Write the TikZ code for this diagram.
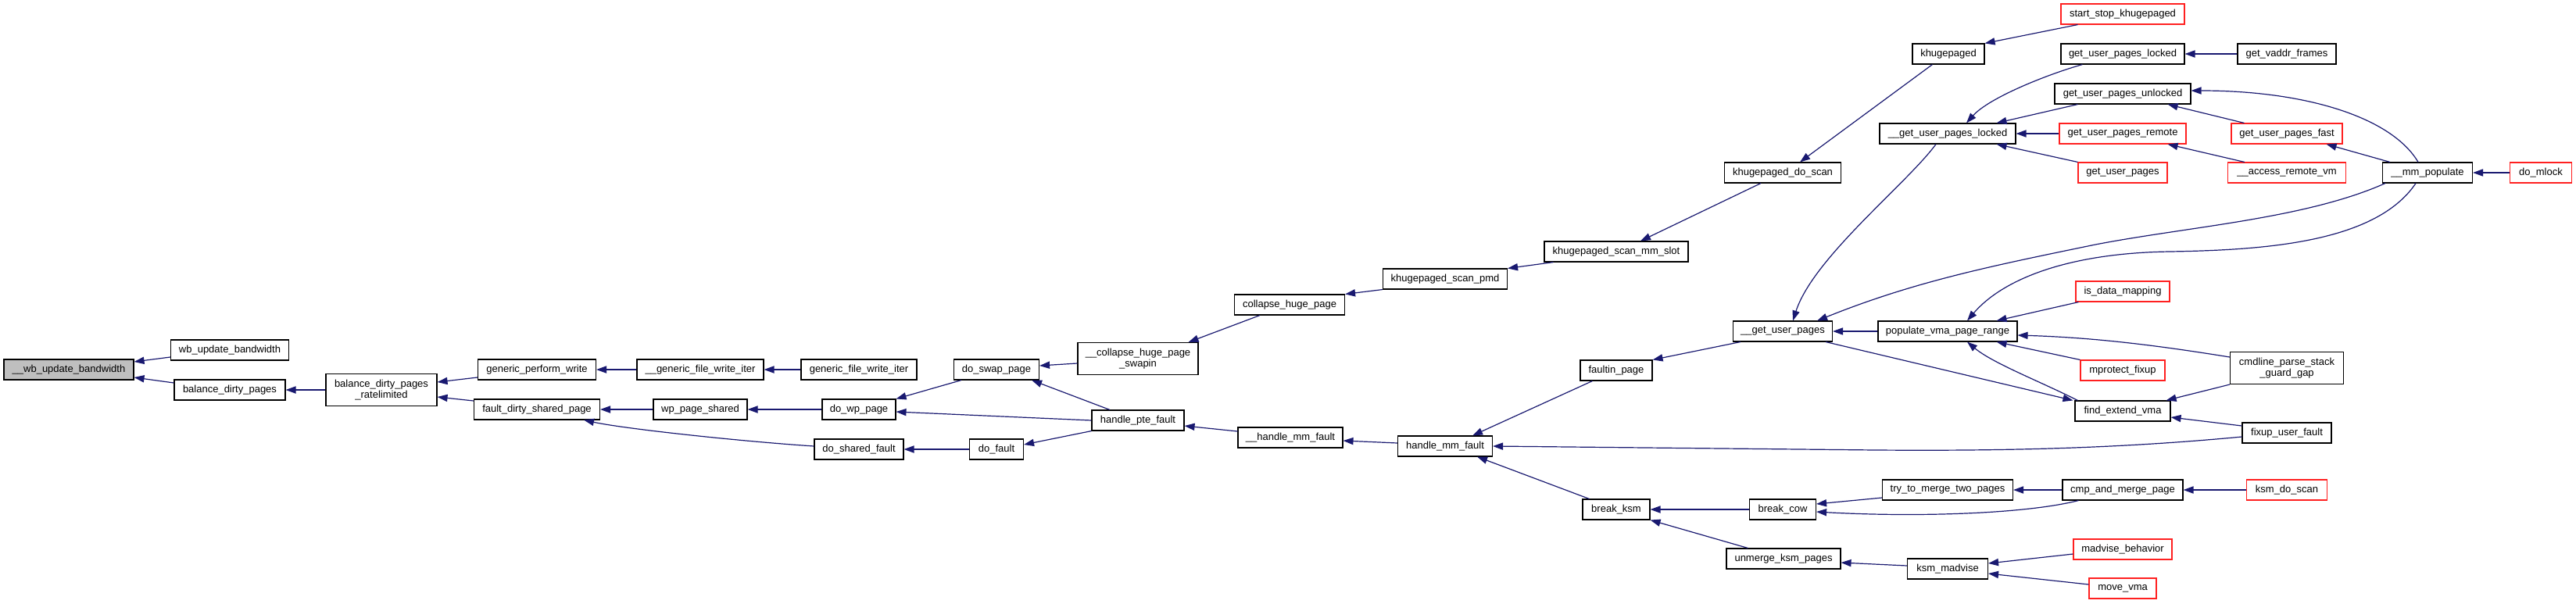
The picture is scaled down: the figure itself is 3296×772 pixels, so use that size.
\documentclass[tikz,border=0pt]{standalone}
\usepackage{fontspec}
\setmainfont{Liberation Sans}
\usetikzlibrary{arrows.meta,calc}
\definecolor{edgeblue}{HTML}{191970}
\definecolor{rootgray}{HTML}{BFBFBF}
\definecolor{redline}{HTML}{FF2020}
\tikzset{
  fn/.style={draw=black, line width=0.55pt, rectangle, inner sep=0pt, minimum height=13pt,
    font=\fontsize{6.5}{7.2}\selectfont, align=center, fill=white},
  fnred/.style={fn, draw=redline},
  fn2/.style={fn, minimum height=20.5pt},
  e/.style={draw=edgeblue, line width=0.6pt, -{Triangle[length=6.5pt,width=4.6pt]}, color=edgeblue}
}
\begin{document}
\begin{tikzpicture}[x=0.5pt,y=-0.5pt]
\useasboundingbox (0,0) rectangle (3296,772);
% nodes
\node[fn, fill=rootgray, minimum width=83pt] (root) at (88,473) {\_\_wb\_update\_bandwidth};
\node[fn, minimum width=75.5pt] (wbu) at (294,448) {wb\_update\_bandwidth};
\node[fn, minimum width=71pt] (bdp) at (294,499) {balance\_dirty\_pages};
\node[fn2, minimum width=71pt] (bdpr) at (488,499) {balance\_dirty\_pages\\\_ratelimited};
\node[fn, minimum width=75.5pt] (gpw) at (687,473) {generic\_perform\_write};
\node[fn, minimum width=80.5pt] (fdsp) at (687,524) {fault\_dirty\_shared\_page};
\node[fn, minimum width=81pt] (gfwiA) at (896,473) {\_\_generic\_file\_write\_iter};
\node[fn, minimum width=74pt] (gfwi) at (1099,473) {generic\_file\_write\_iter};
\node[fn, minimum width=60pt] (wps) at (896,524) {wp\_page\_shared};
\node[fn, minimum width=57pt] (dsf) at (1099,575) {do\_shared\_fault};
\node[fn, minimum width=47pt] (dwp) at (1099,524) {do\_wp\_page};
\node[fn, minimum width=34.5pt] (dof) at (1275,575) {do\_fault};
\node[fn, minimum width=54.5pt] (dsp) at (1275,473) {do\_swap\_page};
\node[fn2, minimum width=77pt] (chps) at (1456,459) {\_\_collapse\_huge\_page\\\_swapin};
\node[fn, minimum width=59pt] (hpf) at (1456,538) {handle\_pte\_fault};
\node[fn, minimum width=70.5pt] (chp) at (1650,390) {collapse\_huge\_page};
\node[fn, minimum width=67pt] (hmfA) at (1651,560) {\_\_handle\_mm\_fault};
\node[fn, minimum width=60.5pt] (hmf) at (1849,571) {handle\_mm\_fault};
\node[fn, minimum width=79.5pt] (kspmd) at (1849,357) {khugepaged\_scan\_pmd};
\node[fn, minimum width=92pt] (ksmm) at (2068,322) {khugepaged\_scan\_mm\_slot};
\node[fn, minimum width=74.5pt] (kds) at (2281,221) {khugepaged\_do\_scan};
\node[fn, minimum width=46pt] (kgp) at (2493,69) {khugepaged};
\node[fnred, minimum width=79pt] (sstk) at (2716,18) {start\_stop\_khugepaged};
\node[fn, minimum width=46pt] (faultin) at (2068,474) {faultin\_page};
\node[fn, minimum width=43pt] (bksm) at (2068,652) {break\_ksm};
\node[fn, minimum width=63.5pt] (gupA) at (2281,424) {\_\_get\_user\_pages};
\node[fn, minimum width=42.5pt] (bcow) at (2281,652) {break\_cow};
\node[fn, minimum width=73pt] (uksm) at (2282,715) {unmerge\_ksm\_pages};
\node[fn, minimum width=87pt] (guplA) at (2492,171) {\_\_get\_user\_pages\_locked};
\node[fn, minimum width=89pt] (pvpr) at (2492,424) {populate\_vma\_page\_range};
\node[fn, minimum width=83.5pt] (ttm) at (2492,627) {try\_to\_merge\_two\_pages};
\node[fn, minimum width=51.5pt] (ksmad) at (2492,728) {ksm\_madvise};
\node[fn, minimum width=79pt] (gul) at (2716,69) {get\_user\_pages\_locked};
\node[fn, minimum width=87pt] (guu) at (2716,120) {get\_user\_pages\_unlocked};
\node[fnred, minimum width=81pt] (gur) at (2716,171) {get\_user\_pages\_remote};
\node[fnred, minimum width=57pt] (gup) at (2716,221) {get\_user\_pages};
\node[fnred, minimum width=60pt] (idm) at (2716,373) {is\_data\_mapping};
\node[fnred, minimum width=54pt] (mpf) at (2716,474) {mprotect\_fixup};
\node[fn, minimum width=61pt] (fev) at (2716,526) {find\_extend\_vma};
\node[fn, minimum width=77pt] (cmp) at (2716,627) {cmp\_and\_merge\_page};
\node[fnred, minimum width=63pt] (mb) at (2716,703) {madvise\_behavior};
\node[fnred, minimum width=43pt] (mv) at (2716,753) {move\_vma};
\node[fn, minimum width=63pt] (gvf) at (2926,69) {get\_vaddr\_frames};
\node[fnred, minimum width=71pt] (gupf) at (2926,171) {get\_user\_pages\_fast};
\node[fnred, minimum width=75.5pt] (arv) at (2926,221) {\_\_access\_remote\_vm};
\node[fn2, minimum width=72.5pt] (cpsg) at (2926,471) {cmdline\_parse\_stack\\\_guard\_gap};
\node[fn, minimum width=57pt] (fuf) at (2926,554) {fixup\_user\_fault};
\node[fnred, minimum width=51.5pt] (kdsc) at (2926,627) {ksm\_do\_scan};
\node[fn, minimum width=57.5pt] (mmp) at (3106,221) {\_\_mm\_populate};
\node[fnred, minimum width=39.5pt] (dml) at (3251,221) {do\_mlock};
% edges
\draw[e] ($(wbu.west)+(0,9)$) -- ($(root.east)+(0,-10)$);
\draw[e] ($(bdp.west)+(0,-9)$) -- ($(root.east)+(0,10)$);
\draw[e] (bdpr.west) -- (bdp.east);
\draw[e] ($(gpw.west)+(0,10)$) -- ($(bdpr.east)+(0,-10)$);
\draw[e] ($(fdsp.west)+(0,-11)$) -- ($(bdpr.east)+(0,9)$);
\draw[e] (gfwiA.west) -- (gpw.east);
\draw[e] (gfwi.west) -- (gfwiA.east);
\draw[e] (wps.west) -- (fdsp.east);
\draw[e] ($(dsf.west)+(0,-4)$) .. controls (950,565) and (800,549) .. ($(fdsp.south east)+(-21,0)$);
\draw[e] (dwp.west) -- (wps.east);
\draw[e] (dof.west) -- (dsf.east);
\draw[e] ($(dsp.south west)+(10,0)$) -- (dwp.north east);
\draw[e] (hpf.west) -- ($(dwp.east)+(0,3)$);
\draw[e] ($(hpf.north)+(-36,0)$) -- ($(dsp.south east)+(-10,0)$);
\draw[e] (hpf.south west) -- ($(dof.east)+(0,-6)$);
\draw[e] ($(chps.west)+(0,6)$) -- ($(dsp.east)+(0,-5)$);
\draw[e] ($(chp.south west)+(33,0)$) -- ($(chps.north east)+(-13,0)$);
\draw[e] (kspmd.south west) -- (chp.north east);
\draw[e] ($(ksmm.south west)+(12,0)$) -- (kspmd.north east);
\draw[e] ($(kds.south west)+(47,0)$) -- ($(ksmm.north)+(31,0)$);
\draw[e] ($(kgp.south west)+(26,0)$) -- ($(kds.north)+(22,0)$);
\draw[e] ($(sstk.south west)+(22,0)$) -- (kgp.north east);
\draw[e] ($(hmfA.west)+(0,-8)$) -- ($(hpf.east)+(0,7)$);
\draw[e] ($(hmf.west)+(0,-4)$) -- ($(hmfA.east)+(0,4)$);
\draw[e] ($(faultin.south west)+(16,0)$) -- ($(hmf.north)+(35,0)$);
\draw[e] ($(bksm.north west)+(9,0)$) -- ($(hmf.south east)+(-20,0)$);
\draw[e] ($(fuf.west)+(0,5)$) .. controls (2700,575) and (2550,577) .. (2400,576) -- (hmf.east);
\draw[e] ($(gupA.south west)+(10,0)$) -- (faultin.north east);
\draw[e] (bcow.west) -- (bksm.east);
\draw[e] ($(uksm.north west)+(28,0)$) -- (bksm.south east);
\draw[e] ($(guplA.south)+(-15,0)$) .. controls (2440,235) and (2320,330) .. ($(gupA.north)+(13,0)$);
\draw[e] ($(mmp.south west)+(4,0)$) .. controls (2950,280) and (2800,290) .. (2681,313) .. controls (2550,340) and (2450,360) .. ($(gupA.north east)+(-20,0)$);
\draw[e] ($(gul.south west)+(28,0)$) .. controls (2620,95) and (2545,125) .. ($(guplA.north)+(24,0)$);
\draw[e] (gvf.west) -- (gul.east);
\draw[e] ($(guu.south west)+(30,0)$) -- ($(guplA.north east)+(-25,0)$);
\draw[e] (gur.west) -- (guplA.east);
\draw[e] (gup.north west) -- ($(guplA.south east)+(-25,0)$);
\draw[e] ($(gupf.north west)+(17,0)$) -- ($(guu.south east)+(-30,0)$);
\draw[e] ($(arv.north west)+(22,0)$) -- ($(gur.south east)+(-24,0)$);
\draw[e] ($(mmp.north west)+(10,0)$) -- ($(gupf.south east)+(-21,0)$);
\draw[e] ($(mmp.north)+(-12,0)$) .. controls (3060,150) and (2950,116) .. ($(guu.east)+(0,-4)$);
\draw[e] (dml.west) -- (mmp.east);
\draw[e] ($(mmp.south)+(-15,0)$) .. controls (3040,310) and (2900,320) .. (2776,322) .. controls (2640,324) and (2560,360) .. ($(pvpr.north)+(25,0)$);
\draw[e] ($(idm.south west)+(4,0)$) -- ($(pvpr.north east)+(-27,0)$);
\draw[e] ($(cpsg.west)+(0,-14)$) .. controls (2760,442) and (2680,432) .. ($(pvpr.east)+(0,5)$);
\draw[e] (mpf.north west) -- ($(pvpr.south east)+(-27,0)$);
\draw[e] ($(fev.north west)+(4,0)$) .. controls (2610,488) and (2550,465) .. ($(pvpr.south)+(25,0)$);
\draw[e] ($(gupA.south east)+(-9,0)$) -- ($(fev.north west)+(-2,0)$);
\draw[e] (cpsg.south west) -- ($(fev.north east)+(-6,0)$);
\draw[e] ($(fuf.west)+(0,-9)$) -- ($(fev.east)+(0,8)$);
\draw[e] (pvpr.west) -- (gupA.east);
\draw[e] ($(ttm.west)+(0,10)$) -- ($(bcow.east)+(0,-7)$);
\draw[e] ($(cmp.south west)+(21,0)$) .. controls (2590,658) and (2450,662) .. ($(bcow.east)+(0,3)$);
\draw[e] (cmp.west) -- (ttm.east);
\draw[e] (kdsc.west) -- (cmp.east);
\draw[e] ($(ksmad.west)+(0,-4)$) -- ($(uksm.east)+(0,5)$);
\draw[e] ($(mb.west)+(0,6)$) -- ($(ksmad.east)+(0,-7)$);
\draw[e] ($(mv.west)+(0,-5)$) -- ($(ksmad.east)+(0,6)$);
\end{tikzpicture}
\end{document}
